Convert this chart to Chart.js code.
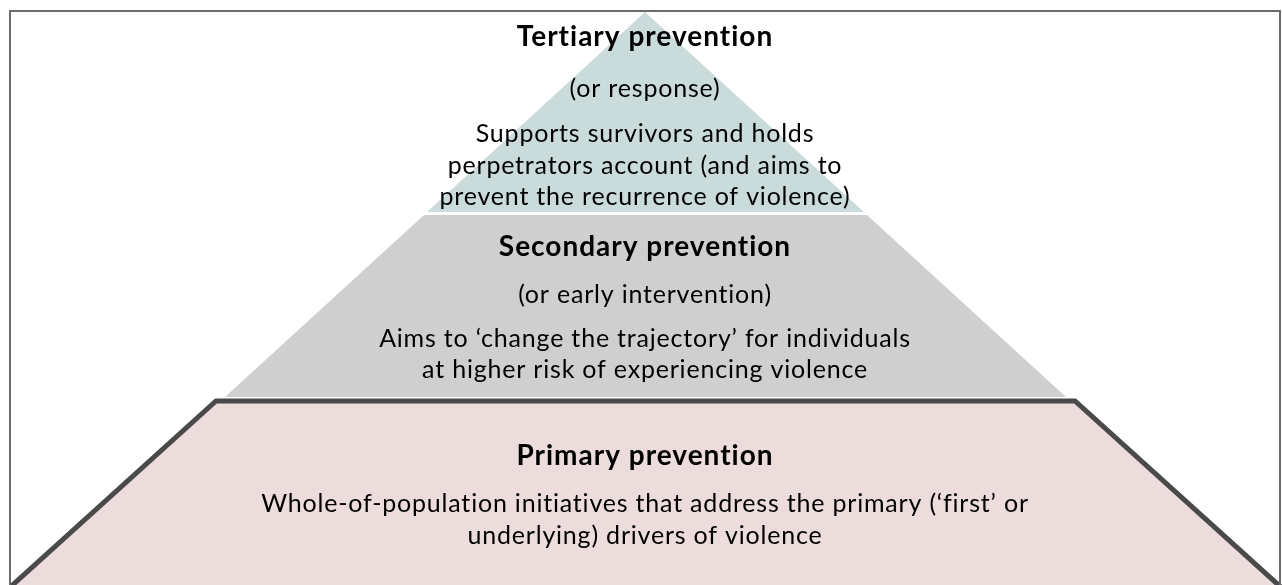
<!DOCTYPE html>
<html>
<head>
<meta charset="utf-8">
<script src="https://cdn.jsdelivr.net/npm/chart.js@4/dist/chart.umd.min.js"></script>
<style>
html, body { margin: 0; padding: 0; background: #fff; }
#wrap { width: 1282px; height: 585px; position: relative; }
</style>
</head>
<body>
<div id="wrap"><canvas id="chart"></canvas></div>
<script>
var levelTitles = ['Tertiary prevention', 'Secondary prevention', 'Primary prevention'];
var levelSubtitles = ['(or response)', '(or early intervention)', ''];
var levelLines = [
    ['Supports survivors and holds', 'perpetrators account (and aims to', 'prevent the recurrence of violence)'],
    ['Aims to \u2018change the trajectory\u2019 for individuals', 'at higher risk of experiencing violence'],
    ['Whole-of-population initiatives that address the primary (\u2018first\u2019 or', 'underlying) drivers of violence']
];
// corners of each level, in the page's own units (x across, y down)
var tertiaryX = [645, 864, 427, 645];
var tertiaryY = [12, 212, 212, 12];
var secondaryX = [424, 867, 1066, 225, 424];
var secondaryY = [215, 215, 397, 397, 215];
var primaryX = [-4, 216, 1075, 1295];
var primaryY = [600, 401, 401, 600];
var frameX = [10, 10, 1280, 1280];
var frameY = [600, 11, 11, 600];

var levelColors = ['#c9dbdb', '#d0cfcf', '#ecdcdc'];
var textCenter = 645;
var titleRows = [37, 247, 456];
var subtitleRows = [89, 295, null];
var lineRows = [[134, 166, 197], [339, 370], [504, 536]];

function pts(xs, ys){
    var data = [];
    for(var i = 0; i < xs.length; i++){
        data.push({x: xs[i], y: ys[i]});
    }
    return data;
}

var textPlugin = {
    id: 'pyramidText',
    afterDatasetsDraw: function(chart){
        var ctx = chart.ctx;
        var xs = chart.scales.x, ys = chart.scales.y;
        var cx = xs.getPixelForValue(textCenter);
        ctx.save();
        ctx.fillStyle = '#000';
        ctx.textAlign = 'center';
        ctx.textBaseline = 'middle';
        for(var i = 0; i < levelTitles.length; i++){
            ctx.font = 'bold 28px Lato';
            ctx.letterSpacing = '1px';
            ctx.fillText(levelTitles[i], cx, ys.getPixelForValue(titleRows[i]));
            ctx.font = '25px Lato';
            ctx.letterSpacing = '0.8px';
            if(levelSubtitles[i]){
                ctx.fillText(levelSubtitles[i], cx, ys.getPixelForValue(subtitleRows[i]));
            }
            for(var j = 0; j < levelLines[i].length; j++){
                ctx.fillText(levelLines[i][j], cx, ys.getPixelForValue(lineRows[i][j]));
            }
        }
        ctx.restore();
    }
};

window.onload = function(){
    var canvas = document.getElementById('chart');
    window.chartInstance = new Chart(canvas.getContext('2d'), {
        type: 'line',
        data: {
            datasets: [{
                label: 'frame',
                data: pts(frameX, frameY),
                borderColor: '#6b6b6b',
                borderWidth: 2,
                fill: false,
                pointRadius: 0
            },{
                label: levelTitles[0],
                data: pts(tertiaryX, tertiaryY),
                borderColor: 'rgba(0,0,0,0)',
                borderWidth: 0,
                backgroundColor: levelColors[0],
                fill: 'shape',
                pointRadius: 0
            },{
                label: levelTitles[1],
                data: pts(secondaryX, secondaryY),
                borderColor: 'rgba(0,0,0,0)',
                borderWidth: 0,
                backgroundColor: levelColors[1],
                fill: 'shape',
                pointRadius: 0
            },{
                label: levelTitles[2],
                data: pts(primaryX, primaryY),
                borderColor: '#4a4a4a',
                borderWidth: 5,
                borderJoinStyle: 'miter',
                backgroundColor: levelColors[2],
                fill: 'shape',
                pointRadius: 0
            }]
        },
        options: {
            animation: false,
            responsive: true,
            maintainAspectRatio: false,
            layout: { padding: 0 },
            elements: { line: { tension: 0 } },
            scales: {
                x: { type: 'linear', min: 0, max: 1282, display: false },
                y: { type: 'linear', min: 0, max: 585, reverse: true, display: false }
            },
            plugins: {
                legend: { display: false },
                tooltip: { enabled: false }
            }
        },
        plugins: [textPlugin]
    });
};
</script>
</body>
</html>
